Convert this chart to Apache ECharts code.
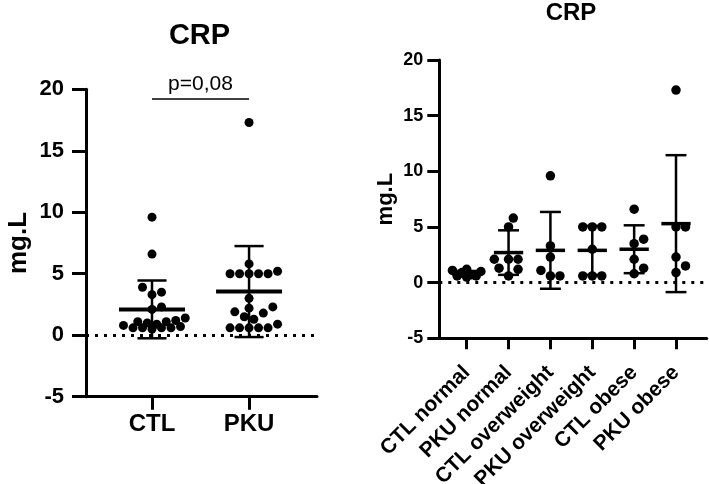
<!DOCTYPE html>
<html><head><meta charset="utf-8">
<script src="https://cdn.jsdelivr.net/npm/echarts@6/dist/echarts.min.js"></script>
<style>html,body{margin:0;padding:0;background:#fff}#c{width:709px;height:484px}</style>
</head><body><div id="c"></div>
<script>
// ---------- data ----------
const leftCategories = ['CTL', 'PKU'];
const ctlAll = [9.6, 6.6, 3.9, 3.5, 3.3, 2.3, 2.1, 1.4, 1.2, 1.1, 1.1, 1.0, 0.9, 0.8, 0.7, 0.6, 0.6, 0.6, 0.6, 0.5];
const pkuAll = [17.3, 5.8, 5.2, 5.0, 5.0, 5.0, 5.0, 5.0, 3.0, 2.3, 2.2, 1.9, 1.8, 1.5, 1.3, 0.9, 0.6, 0.6, 0.6, 0.6, 0.6];
const leftMeans = [2.1, 3.55];
const leftSDs = [2.35, 3.7];

const rightCategories = ['CTL normal', 'PKU normal', 'CTL overweight', 'PKU overweight', 'CTL obese', 'PKU obese'];
const ctlNormal = [1.2, 1.1, 1.0, 0.9, 0.7, 0.6, 0.6, 0.5];
const pkuNormal = [5.8, 5.0, 2.1, 2.1, 2.1, 1.3, 1.2, 0.6];
const ctlOverweight = [9.6, 3.3, 2.3, 1.1, 0.6, 0.6];
const pkuOverweight = [5.0, 5.0, 5.0, 3.0, 0.6, 0.6, 0.6];
const ctlObese = [6.6, 3.9, 3.5, 2.1, 1.3, 0.8];
const pkuObese = [17.3, 5.0, 5.0, 2.3, 1.5, 0.9];
const rightMeans = [0.8, 2.7, 2.9, 2.9, 3.0, 5.3];
const rightSDs = [0.25, 2.0, 3.45, 2.2, 2.15, 6.15];

const yMin = -5, yMax = 20, yStep = 5;
const titleText = 'CRP';
const yName = 'mg.L';
const pValueLabel = 'p=0,08';
const pValueLevel = 19.2;

// ---------- chart ----------
const FONT = '"Liberation Sans", Arial, sans-serif';
const chart = echarts.init(document.getElementById('c'), null, {renderer: 'canvas'});

function yAxisCfg(gridIndex, fs, margin, nameSize, nameGap, tickLen) {
  return {
    type: 'value', gridIndex, min: yMin, max: yMax, interval: yStep,
    name: yName, nameLocation: 'middle', nameGap,
    nameTextStyle: {fontFamily: FONT, fontWeight: 'bold', fontSize: nameSize, color: '#000'},
    axisLine: {show: true, onZero: false, lineStyle: {color: '#000', width: 3}},
    axisTick: {show: true, length: tickLen, lineStyle: {color: '#000', width: 3}},
    axisLabel: {fontFamily: FONT, fontWeight: 'bold', fontSize: fs, color: '#000', margin},
    splitLine: {show: false}
  };
}
function xAxisCfg(gridIndex, min, max, cats, fs, margin, rotate, tickLen) {
  const vals = cats.map((_, i) => i + 1);
  return {
    type: 'value', gridIndex, min, max,
    axisLine: {show: true, onZero: false, lineStyle: {color: '#000', width: 3}},
    axisTick: {show: true, customValues: vals, length: tickLen, lineStyle: {color: '#000', width: 3}},
    axisLabel: {
      customValues: vals, rotate, margin,
      formatter: v => cats[Math.round(v) - 1] || '',
      fontFamily: FONT, fontWeight: 'bold', fontSize: fs, color: '#000'
    },
    splitLine: {show: false}
  };
}
function errRender(meanW, capW, meanLW, barLW) {
  return function (params, api) {
    const x = api.value(0), m = api.value(1), s = api.value(2);
    const c = api.coord([x, m]), t = api.coord([x, m + s]), b = api.coord([x, m - s]);
    const hm = api.size([meanW, 0])[0] / 2, hc = api.size([capW, 0])[0] / 2;
    const st = {stroke: '#000', lineWidth: barLW};
    return {type: 'group', children: [
      {type: 'line', shape: {x1: t[0], y1: t[1], x2: b[0], y2: b[1]}, style: st},
      {type: 'line', shape: {x1: t[0] - hc, y1: t[1], x2: t[0] + hc, y2: t[1]}, style: st},
      {type: 'line', shape: {x1: b[0] - hc, y1: b[1], x2: b[0] + hc, y2: b[1]}, style: st},
      {type: 'line', shape: {x1: c[0] - hm, y1: c[1], x2: c[0] + hm, y2: c[1]}, style: {stroke: '#000', lineWidth: meanLW}}
    ]};
  };
}
const zeroLine = {yAxis: 0, lineStyle: {type: [3, 6], width: 3, color: '#000', cap: 'butt'}, label: {show: false}};

const leftGroups = [ctlAll, pkuAll];
const rightGroups = [ctlNormal, pkuNormal, ctlOverweight, pkuOverweight, ctlObese, pkuObese];
const centered = groups => groups.flatMap((g, i) => g.map(v => [i + 1, v]));

chart.setOption({
  animation: false,
  backgroundColor: '#fff',
  title: [
    {text: titleText, left: 199.5, top: 21.5, textAlign: 'center', padding: 0,
     textStyle: {fontFamily: FONT, fontWeight: 'bold', fontSize: 29, color: '#000'}},
    {text: titleText, left: 571, top: 1.5, textAlign: 'center', padding: 0,
     textStyle: {fontFamily: FONT, fontWeight: 'bold', fontSize: 24, color: '#000'}}
  ],
  grid: [
    {left: 86, top: 89.3, width: 231, height: 307.4, containLabel: false, outerBoundsMode: 'none'},
    {left: 439.3, top: 60, width: 267.4, height: 278.3, containLabel: false, outerBoundsMode: 'none'}
  ],
  xAxis: [
    xAxisCfg(0, 0.32, 2.70, leftCategories, 24, 16, 0, 13),
    xAxisCfg(1, 0.346, 6.733, rightCategories, 21, 31, 45, 11)
  ],
  yAxis: [
    yAxisCfg(0, 22, 22, 26, 54, 14),
    yAxisCfg(1, 18, 16, 22, 42, 12)
  ],
  series: [
    {id: 'leftDots', type: 'scatter', xAxisIndex: 0, yAxisIndex: 0, symbolSize: 9,
     itemStyle: {color: '#000', opacity: 1}, data: centered(leftGroups),
     markLine: {silent: true, symbol: ['none', 'none'], animation: false,
       data: [zeroLine,
         [{coord: [1, pValueLevel], lineStyle: {type: 'solid', width: 1.6, color: '#000'},
           label: {show: true, formatter: pValueLabel, position: 'insideMiddleTop', distance: 4,
             fontFamily: FONT, fontSize: 21, color: '#000'}},
          {coord: [2, pValueLevel]}]
       ]}},
    {id: 'leftErr', type: 'custom', xAxisIndex: 0, yAxisIndex: 0, z: 5,
     renderItem: errRender(0.68, 0.3, 4, 2.5),
     data: leftMeans.map((m, i) => [i + 1, m, leftSDs[i]])},
    {id: 'rightDots', type: 'scatter', xAxisIndex: 1, yAxisIndex: 1, symbolSize: 9.5,
     itemStyle: {color: '#000', opacity: 1}, data: centered(rightGroups),
     markLine: {silent: true, symbol: ['none', 'none'], animation: false, data: [zeroLine]}},
    {id: 'rightErr', type: 'custom', xAxisIndex: 1, yAxisIndex: 1, z: 5,
     renderItem: errRender(0.7, 0.5, 3.5, 2.5),
     data: rightMeans.map((m, i) => [i + 1, m, rightSDs[i]])}
  ]
});

// beeswarm-style horizontal spreading of dots using the axes' own scales
function swarm(groups, gridIndex, d, maxHalf) {
  const p0 = chart.convertToPixel({xAxisIndex: gridIndex, yAxisIndex: gridIndex}, [1, 0]);
  const p1 = chart.convertToPixel({xAxisIndex: gridIndex, yAxisIndex: gridIndex}, [2, 1]);
  const kx = p1[0] - p0[0], ky = p0[1] - p1[1];
  const out = [];
  groups.forEach((vals, gi) => {
    const placed = [];
    const order = vals.map((v, i) => i).sort((a, b) => vals[a] - vals[b]);
    const step = d / 2;
    const cands = [0];
    for (let k = 1; k * step <= maxHalf; k++) cands.push(k * step, -k * step);
    order.forEach(i => {
      const yp = vals[i] * ky;
      let best = 0, bestScore = -1;
      for (const dx of cands) {
        let md = Infinity;
        for (const p of placed) {
          const dd = Math.hypot(p[0] - dx, p[1] - yp);
          if (dd < md) md = dd;
        }
        if (md >= d) { best = dx; break; }
        if (md > bestScore) { bestScore = md; best = dx; }
      }
      placed.push([best, yp]);
      out.push([gi + 1 + best / kx, vals[i]]);
    });
  });
  return out;
}
chart.setOption({series: [
  {id: 'leftDots', data: swarm(leftGroups, 0, 9.5, 34)},
  {id: 'rightDots', data: swarm(rightGroups, 1, 9.5, 15)}
]});
</script></body></html>
